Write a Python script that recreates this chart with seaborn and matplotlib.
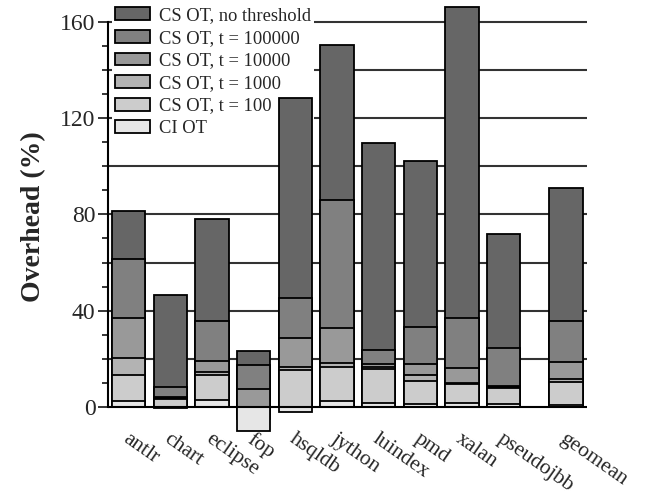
import numpy as np
import pandas as pd
import matplotlib
matplotlib.use("Agg")
import matplotlib.pyplot as plt
import matplotlib.transforms as mtransforms
import seaborn as sns

benchmarks = ["antlr", "chart", "eclipse", "fop", "hsqldb", "jython",
              "luindex", "pmd", "xalan", "pseudojbb", "geomean"]
positions = [0, 1, 2, 3, 4, 5, 6, 7, 8, 9, 10.5]

series_names = ["CS OT, no threshold", "CS OT, t = 100000", "CS OT, t = 10000",
                "CS OT, t = 1000", "CS OT, t = 100", "CI OT"]

cs_no_threshold = [81.5, 46.5, 78.1, 23.3, 128.3, 150.5, 109.6, 102.2, 166.1, 71.9, 90.9]
cs_t100000 = [61.4, 8.5, 35.9, 17.5, 45.4, 86.0, 23.7, 33.1, 36.9, 24.4, 35.7]
cs_t10000 = [36.9, 4.3, 19.3, 7.6, 28.5, 32.8, 17.9, 18.0, 16.4, 8.7, 18.5]
cs_t1000 = [20.5, 3.8, 14.4, -3.0, 16.5, 18.2, 16.8, 13.5, 9.9, 8.4, 11.7]
cs_t100 = [13.4, 3.3, 13.2, -5.0, 15.4, 16.8, 15.7, 11.0, 9.6, 7.8, 10.3]
ci_ot = [2.5, -0.6, 2.9, -10.0, -2.2, 2.6, 1.5, 1.2, 1.5, 1.3, 0.8]

all_series = [cs_no_threshold, cs_t100000, cs_t10000, cs_t1000, cs_t100, ci_ot]
colors = ["#666666", "#808080", "#999999", "#b3b3b3", "#cccccc", "#e6e6e6"]

rows = []
for name, vals in zip(series_names, all_series):
    for b, p, v in zip(benchmarks, positions, vals):
        rows.append({"benchmark": b, "pos": p, "series": name, "value": v})
df = pd.DataFrame(rows)

sns.set_style("white")
plt.rcParams["font.family"] = ["Liberation Serif", "DejaVu Serif"]

fig = plt.figure(figsize=(6.49, 4.95), dpi=100)
ax = fig.add_axes([0.1664, 0.1242, 0.738, 0.8758])

for name, col in zip(series_names, colors):
    sub = df[df["series"] == name]
    sns.barplot(data=sub, x="pos", y="value", native_scale=True, color=col,
                edgecolor="black", linewidth=1.3, width=0.8, errorbar=None,
                label=name, ax=ax, zorder=2)

for v in range(20, 161, 20):
    ax.axhline(v, color="#333333", lw=1.5, zorder=0.5)
ax.axhline(0, color="black", lw=1.5, zorder=3)

ax.set_xlim(-0.5, 11.0)
ax.set_ylim(-11, 169)
ax.set_yticks([0, 40, 80, 120, 160])
ax.set_yticks(np.arange(0, 161, 10), minor=True)
ax.tick_params(axis="y", which="major", length=7, width=1.3, labelsize=17,
               direction="out", left=True, pad=2)
ax.tick_params(axis="y", which="minor", length=4, width=1.3, direction="out", left=True)

ax.set_xticks(positions)
ax.set_xticklabels(benchmarks, rotation=-35, ha="left", va="top",
                   rotation_mode="anchor", fontsize=15.5)
ax.tick_params(axis="x", length=0, pad=0)
offset = mtransforms.ScaledTranslation(1 / 100, 4 / 100, fig.dpi_scale_trans)
for lab in ax.get_xticklabels():
    lab.set_transform(lab.get_transform() + offset)

ax.set_xlabel("")
ax.set_ylabel("Overhead (%)", fontsize=20, fontweight="bold", labelpad=10)

for s in ["top", "right", "bottom"]:
    ax.spines[s].set_visible(False)
ax.spines["left"].set_bounds(0, 160)
ax.spines["left"].set_linewidth(1.5)
ax.spines["left"].set_color("black")

leg = ax.legend(loc="upper left", bbox_to_anchor=(0.0, 1.0), frameon=True,
                fontsize=13.3, handlelength=1.9, handleheight=0.7,
                labelspacing=0.3, handletextpad=0.45, borderaxespad=0.2,
                borderpad=0.2, fancybox=False, framealpha=1.0)
leg.get_frame().set_facecolor("white")
leg.get_frame().set_edgecolor("none")
leg.set_zorder(1)
for h in leg.legend_handles:
    h.set_edgecolor("black")
    h.set_linewidth(1.3)

fig.savefig("out.png", dpi=100)
